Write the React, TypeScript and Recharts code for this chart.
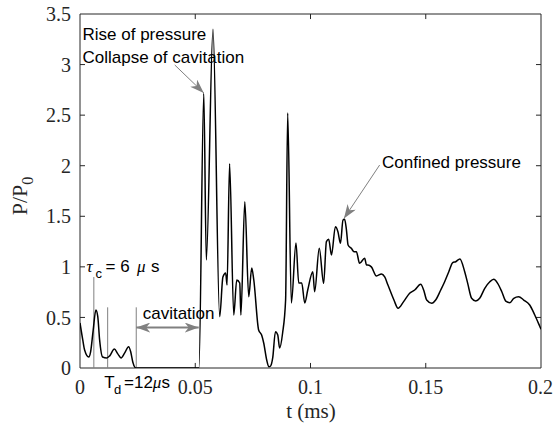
import React from 'react';
import { LineChart, Line, XAxis, YAxis, ReferenceLine, ReferenceArea } from 'recharts';

// time (ms)
const tValues = [
  0, 0.0012, 0.002, 0.0038, 0.0046, 0.0057, 0.0069, 0.0077, 0.0085, 0.0098,
  0.0116, 0.0129, 0.0149, 0.0164, 0.0178, 0.0194, 0.0211, 0.022, 0.0229, 0.0243,
  0.0513, 0.0516, 0.0537, 0.0548, 0.0577, 0.0606, 0.062, 0.0632, 0.0638, 0.0649,
  0.0667, 0.068, 0.0693, 0.0698, 0.0715, 0.0732, 0.0745, 0.0754, 0.0775, 0.0788,
  0.0797, 0.081, 0.0819, 0.0827, 0.0836, 0.0848, 0.0858, 0.0866, 0.0879, 0.0892,
  0.0901, 0.0917, 0.0937, 0.0949, 0.0962, 0.0975, 0.0988, 0.101, 0.1018, 0.1038,
  0.1057, 0.1069, 0.1079, 0.1091, 0.1108, 0.1119, 0.113, 0.1141, 0.1148, 0.1156,
  0.1163, 0.1177, 0.1189, 0.1199, 0.1213, 0.1235, 0.1243, 0.1249, 0.1264, 0.1286,
  0.1308, 0.1322, 0.1336, 0.1362, 0.138, 0.1404, 0.143, 0.1452, 0.1478, 0.1491,
  0.1504, 0.1526, 0.1543, 0.1565, 0.1582, 0.16, 0.1617, 0.163, 0.1648, 0.1669,
  0.1682, 0.1699, 0.1717, 0.1734, 0.1756, 0.1778, 0.1795, 0.1812, 0.183, 0.1847,
  0.1865, 0.1882, 0.1903, 0.1925, 0.1951, 0.1973, 0.1994, 0.2,
];

// pressure ratio P/P0
const pValues = [
  0.445, 0.277, 0.178, 0.109, 0.16, 0.37, 0.573, 0.51, 0.28, 0.109,
  0.099, 0.12, 0.188, 0.14, 0.1, 0.15, 0.21, 0.16, 0.06, 0,
  0, 0, 2.716, 1.068, 3.35, 0.507, 0.9, 0.94, 0.82, 2.02,
  0.524, 0.87, 0.84, 0.524, 1.644, 0.705, 0.989, 0.87, 0.376, 0.326,
  0.247, 0.079, 0.013, 0.02, 0.099, 0.359, 0.326, 0.198, 0.346, 0.672,
  2.52, 0.643, 1.236, 0.84, 0.84, 0.643, 0.771, 0.952, 0.754, 1.183,
  0.837, 1.249, 1.272, 1.117, 1.397, 1.348, 1.233, 1.463, 1.47, 1.364,
  1.216, 1.183, 1.15, 1.15, 1.035, 1.085, 1.018, 1.018, 1.0, 0.91,
  0.93, 0.9, 0.82, 0.672, 0.59, 0.656, 0.739, 0.771, 0.828, 0.771,
  0.672, 0.64, 0.672, 0.771, 0.853, 0.952, 1.041, 1.051, 1.078, 0.952,
  0.837, 0.689, 0.662, 0.689, 0.788, 0.853, 0.877, 0.837, 0.754, 0.662,
  0.646, 0.689, 0.705, 0.672, 0.623, 0.524, 0.415, 0.383,
];

const xTicks = [0, 0.05, 0.1, 0.15, 0.2];
const xTickLabels = ['0', '0.05', '0.1', '0.15', '0.2'];
const yTicks = [0, 0.5, 1, 1.5, 2, 2.5, 3, 3.5];
const yTickLabels = ['0', '0.5', '1', '1.5', '2', '2.5', '3', '3.5'];

// annotation anchors (data coordinates)
const tauLine = { t: 0.006, top: 0.9 };
const tdLine = { t: 0.012, top: 0.6 };
const cavStart = { t: 0.0244, top: 0.6 };
const cavArrow = { t1: 0.0244, t2: 0.0515, p: 0.4 };
const collapseArrow = { t1: 0.0411, p1: 2.996, t2: 0.0537, p2: 2.72 };
const confinedArrow = { t1: 0.13, p1: 2.007, t2: 0.1145, p2: 1.478 };

const data = tValues.map((t, i) => ({ t, p: pValues[i] }));

const AX = '#262626';
const GRAY = '#808080';
const serif = '"Liberation Serif", "Times New Roman", serif';
const sans = '"Liberation Sans", Arial, sans-serif';

const xTickLen = 0.05; // data units (y)
const yTickLen = 0.00217; // data units (t)

export default function App() {
  return (
    <div style={{ position: 'absolute', left: 0, top: 0, width: 553, height: 430, background: '#fff' }}>
      <svg width={0} height={0} style={{ position: 'absolute' }}>
        <defs>
          <marker id="ah" markerUnits="userSpaceOnUse" markerWidth={14} markerHeight={10} refX={14} refY={5} orient="auto-start-reverse">
            <path d="M0,0 L14,5 L0,10 L4,5 Z" fill={GRAY} />
          </marker>
        </defs>
      </svg>
      <LineChart width={553} height={430} data={data} margin={{ top: 14, right: 12, bottom: 32, left: 20 }}>
        <XAxis
          type="number"
          dataKey="t"
          domain={[0, 0.2]}
          ticks={xTicks}
          tickFormatter={(v: number) => xTickLabels[xTicks.indexOf(v)] ?? String(v)}
          axisLine={false}
          tickLine={false}
          tickSize={6}
          tickMargin={6}
          height={30}
          tick={{ fontFamily: serif, fontSize: 20, fill: AX }}
          allowDataOverflow
        />
        <YAxis
          type="number"
          domain={[0, 3.5]}
          ticks={yTicks}
          tickFormatter={(v: number) => yTickLabels[yTicks.indexOf(v)] ?? String(v)}
          axisLine={false}
          tickLine={false}
          tickSize={6}
          tickMargin={3}
          width={60}
          tick={{ fontFamily: serif, fontSize: 20, fill: AX }}
          allowDataOverflow
        />
        <ReferenceArea x1={0} x2={0.2} y1={0} y2={3.5} fill="none" stroke={AX} strokeWidth={1} fillOpacity={0} ifOverflow="visible" />
        {xTicks.slice(1, -1).map((t) => (
          <ReferenceLine key={'xb' + t} segment={[{ x: t, y: 0 }, { x: t, y: xTickLen }]} stroke={AX} strokeWidth={1} />
        ))}
        {xTicks.slice(1, -1).map((t) => (
          <ReferenceLine key={'xt' + t} segment={[{ x: t, y: 3.5 }, { x: t, y: 3.5 - xTickLen }]} stroke={AX} strokeWidth={1} />
        ))}
        {yTicks.slice(1, -1).map((v) => (
          <ReferenceLine key={'yl' + v} segment={[{ x: 0, y: v }, { x: yTickLen, y: v }]} stroke={AX} strokeWidth={1} />
        ))}
        {yTicks.slice(1, -1).map((v) => (
          <ReferenceLine key={'yr' + v} segment={[{ x: 0.2, y: v }, { x: 0.2 - yTickLen, y: v }]} stroke={AX} strokeWidth={1} />
        ))}
        <ReferenceLine segment={[{ x: tauLine.t, y: 0 }, { x: tauLine.t, y: tauLine.top }]} stroke={GRAY} strokeWidth={1} />
        <ReferenceLine segment={[{ x: tdLine.t, y: 0 }, { x: tdLine.t, y: tdLine.top }]} stroke={GRAY} strokeWidth={1} />
        <ReferenceLine segment={[{ x: cavStart.t, y: 0 }, { x: cavStart.t, y: cavStart.top }]} stroke={GRAY} strokeWidth={1} />
        <ReferenceLine
          segment={[{ x: cavArrow.t1, y: cavArrow.p }, { x: cavArrow.t2, y: cavArrow.p }]}
          stroke={GRAY}
          strokeWidth={2}
          markerStart="url(#ah)"
          markerEnd="url(#ah)"
        />
        <ReferenceLine
          segment={[{ x: collapseArrow.t1, y: collapseArrow.p1 }, { x: collapseArrow.t2, y: collapseArrow.p2 }]}
          stroke={GRAY}
          strokeWidth={1}
          markerEnd="url(#ah)"
        />
        <ReferenceLine
          segment={[{ x: confinedArrow.t1, y: confinedArrow.p1 }, { x: confinedArrow.t2, y: confinedArrow.p2 }]}
          stroke={GRAY}
          strokeWidth={1}
          markerEnd="url(#ah)"
        />
        <Line type="monotone" dataKey="p" stroke="#000" strokeWidth={1.5} dot={false} isAnimationActive={false} />
      </LineChart>
      <svg width={553} height={430} style={{ position: 'absolute', left: 0, top: 0, pointerEvents: 'none' }}>
        <text x={82.5} y={39.5} fontFamily={sans} fontSize={17} fill="#000">Rise of pressure</text>
        <text x={82.5} y={63} fontFamily={sans} fontSize={17} fill="#000">Collapse of cavitation</text>
        <text x={382} y={168} fontFamily={sans} fontSize={17} fill="#000">Confined pressure</text>
        <text x={142.7} y={319} fontFamily={sans} fontSize={17} fill="#000">cavitation</text>
        <text y={272} fontFamily={sans} fontSize={17} fill="#000">
          <tspan x={86.5} fontFamily={serif} fontStyle="italic">τ</tspan>
          <tspan x={95.5} dy={6} fontSize={13}>c</tspan>
          <tspan x={105.5} dy={-6}>= 6</tspan>
          <tspan x={137} fontFamily={serif} fontStyle="italic">μ</tspan>
          <tspan x={151}>s</tspan>
        </text>
        <text y={388.3} fontFamily={sans} fontSize={17} fill="#000">
          <tspan x={104.3}>T</tspan>
          <tspan x={114} dy={6} fontSize={13}>d</tspan>
          <tspan x={124} dy={-6}>=12</tspan>
          <tspan fontFamily={serif} fontStyle="italic">μ</tspan>
          <tspan>s</tspan>
        </text>
        <text x={311} y={418} textAnchor="middle" fontFamily={serif} fontSize={21} fill={AX}>t (ms)</text>
        <g transform="translate(27, 196) rotate(-90)">
          <text x={0} y={0} textAnchor="middle" fontFamily={serif} fontSize={22} fill={AX}>
            P/P<tspan dy={6} fontSize={16}>0</tspan>
          </text>
        </g>
      </svg>
    </div>
  );
}
